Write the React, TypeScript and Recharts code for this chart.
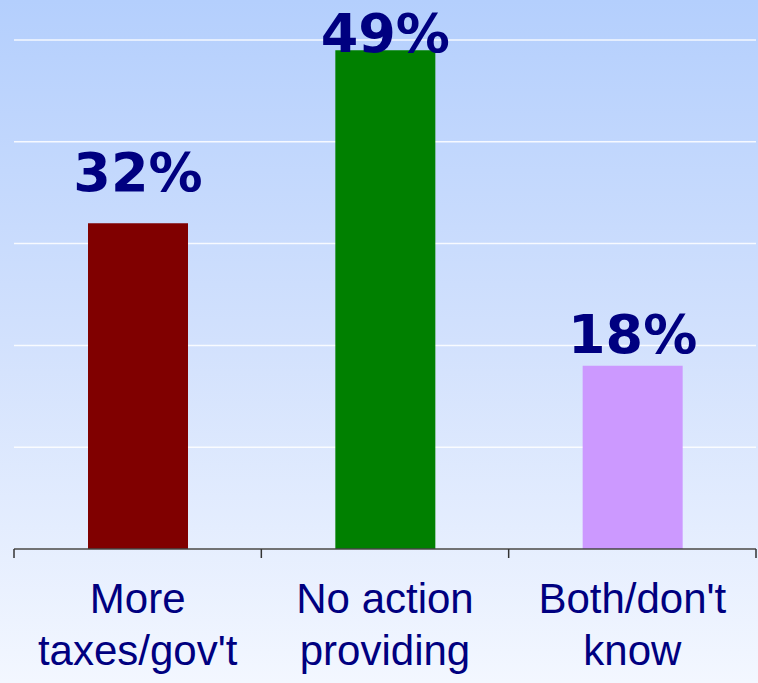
import React from "react"
import { BarChart, Bar, XAxis, YAxis, CartesianGrid, LabelList, Cell } from "recharts"

const categories = ["More\ntaxes/gov't", "No action\nproviding", "Both/don't\nknow"]
const shares = [32, 49, 18]
const barColors = ["#800000", "#008000", "#cc99ff"]
const yTicks = [0, 10, 20, 30, 40, 50]

// how far above the bar top each % label sits (they were hand-placed in the original)
const labelLift = [32, -2, 13]

const data = categories.map((name, i) => ({ name, value: shares[i] }))

const NAVY = "#000080"

function CategoryTick(props: any) {
  const { x, y, payload, index } = props
  const half = payload.offset ?? 0
  const lines = String(payload.value).split("\n")
  const axisY = y - 8
  return (
    <g>
      <line x1={x - half} x2={x - half} y1={axisY} y2={axisY + 9} stroke="#333" strokeWidth={1.5} />
      {index === categories.length - 1 && (
        <line x1={x + half} x2={x + half} y1={axisY} y2={axisY + 9} stroke="#333" strokeWidth={1.5} />
      )}
      {lines.map((t, i) => (
        <text
          key={i}
          x={x}
          y={axisY + 64 + i * 52}
          textAnchor="middle"
          fill={NAVY}
          fontSize={42}
          fontFamily="'Liberation Sans', Arial, sans-serif"
        >
          {t}
        </text>
      ))}
    </g>
  )
}

function PctLabel(props: any) {
  const { x, y, width, value, index } = props
  return (
    <text
      x={x + width / 2}
      y={y - labelLift[index]}
      textAnchor="middle"
      fill={NAVY}
      fontSize={54}
      fontWeight="bold"
      fontFamily="'DejaVu Sans', sans-serif"
    >
      {value}%
    </text>
  )
}

export default function App() {
  return (
    <div
      style={{
        width: 758,
        height: 683,
        position: "fixed",
        top: 0,
        left: 0,
        background: "linear-gradient(to bottom, #b4cffd 0%, #d2e1fd 50%, #f3f7ff 100%)",
      }}
    >
      <BarChart
        width={758}
        height={683}
        data={data}
        margin={{ top: 40, right: 2, bottom: 0, left: 14 }}
      >
        <CartesianGrid vertical={false} stroke="#ffffff" strokeWidth={1.5} strokeOpacity={0.85} />
        <XAxis
          dataKey="name"
          height={134}
          interval={0}
          tickLine={false}
          axisLine={{ stroke: "#444", strokeWidth: 1.5 }}
          tick={<CategoryTick />}
        />
        <YAxis hide domain={[0, 50]} ticks={yTicks} />
        <Bar dataKey="value" barSize={100} isAnimationActive={false}>
          {data.map((d, i) => (
            <Cell key={d.name} fill={barColors[i]} />
          ))}
          <LabelList dataKey="value" content={<PctLabel />} />
        </Bar>
      </BarChart>
    </div>
  )
}
